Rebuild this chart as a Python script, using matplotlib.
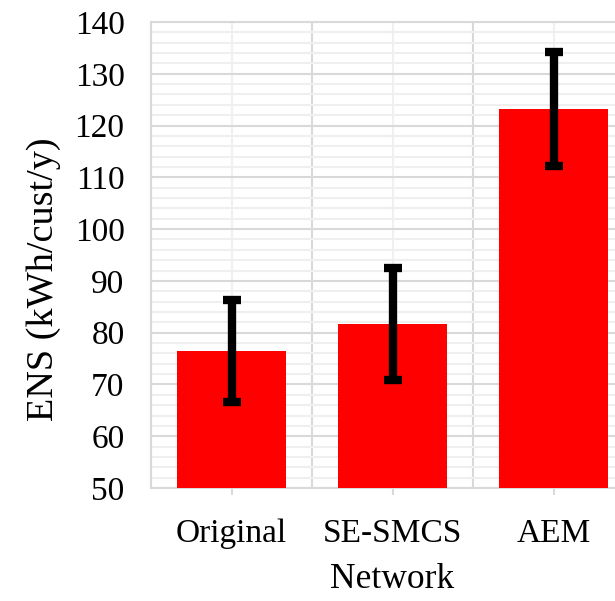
import matplotlib
matplotlib.use("Agg")
import matplotlib.pyplot as plt
import numpy as np
from matplotlib.ticker import MultipleLocator

categories = ["Original", "SE-SMCS", "AEM"]
values = [76.5, 81.7, 123.2]
errors = [9.8, 10.8, 11.1]
yticks = [50, 60, 70, 80, 90, 100, 110, 120, 130, 140]

plt.rcParams['font.family'] = ['Liberation Serif', 'DejaVu Serif']

fig = plt.figure(figsize=(6.15, 6.01), dpi=100)
ax = fig.add_axes([151/615, 113/601, (634-151)/615, (488-22)/601])

x = np.arange(len(categories))
ax.bar(x, values, width=0.68, color='#ff0000', zorder=3)
ax.errorbar(x, values, yerr=errors, fmt='none', ecolor='black', elinewidth=6,
            capsize=6.5, capthick=6, zorder=4)

ax.set_xlim(-0.5, len(categories) - 0.5)
ax.set_ylim(50, 140)
ax.set_yticks(yticks)
ax.yaxis.set_minor_locator(MultipleLocator(2))
ax.set_xticks(x)
ax.set_xticklabels(categories)
ax.set_xticks(np.arange(-0.5, len(categories), 1), minor=True)

ax.grid(which='major', axis='y', color='#d9d9d9', linewidth=1.5, zorder=0)
ax.grid(which='minor', axis='y', color='#efefef', linewidth=1.5, zorder=0)
ax.grid(which='minor', axis='x', color='#d9d9d9', linewidth=1.5, zorder=0)
ax.grid(which='major', axis='x', color='#f0f0f0', linewidth=1.5, zorder=0)
ax.set_axisbelow(True)

for s in ax.spines.values():
    s.set_color('#d9d9d9')
    s.set_linewidth(1.5)

ax.tick_params(axis='y', which='both', length=0, labelsize=24, pad=19)
ax.tick_params(axis='x', which='major', length=5, color='#d9d9d9', width=1.5,
               labelsize=24, pad=17)
ax.tick_params(axis='x', which='minor', length=0)

ax.set_ylabel("ENS (kWh/cust/y)", fontsize=27.5, labelpad=10, y=0.448)
ax.set_xlabel("Network", fontsize=25.5, labelpad=10)

fig.savefig("out.png", dpi=100)
